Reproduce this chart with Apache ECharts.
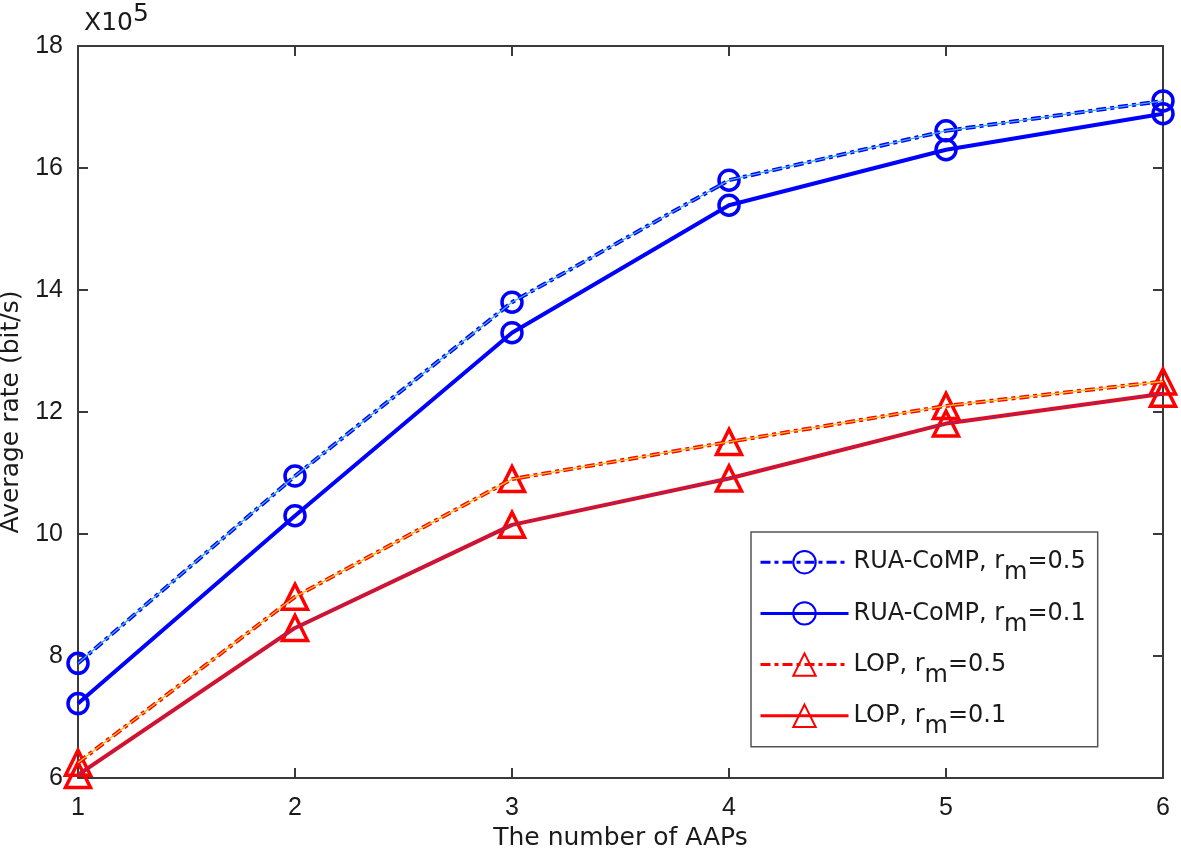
<!DOCTYPE html>
<html>
<head>
<meta charset="utf-8">
<script src="https://cdn.jsdelivr.net/npm/echarts@6/dist/echarts.min.js"></script>
<style>html,body{margin:0;padding:0;background:#fff}#c{width:1181px;height:853px}</style>
</head>
<body>
<div id="c"></div>
<script>
// Data (y values in units of 10^5 bit/s)
var xValues = [1, 2, 3, 4, 5, 6];
var ruaR05 = [7.88, 10.95, 13.80, 15.80, 16.61, 17.10];
var ruaR01 = [7.22, 10.30, 13.30, 15.39, 16.30, 16.89];
var lopR05 = [6.25, 8.97, 10.90, 11.51, 12.10, 12.50];
var lopR01 = [6.05, 8.46, 10.15, 10.91, 11.81, 12.30];
var seriesNames = ['RUA-CoMP, rm=0.5', 'RUA-CoMP, rm=0.1', 'LOP, rm=0.5', 'LOP, rm=0.1'];
var legendRich = ['RUA-CoMP, r{s|m}=0.5', 'RUA-CoMP, r{s|m}=0.1', 'LOP, r{s|m}=0.5', 'LOP, r{s|m}=0.1'];
var yTicks = [6, 8, 10, 12, 14, 16, 18];

function pairs(arr) { return xValues.map(function (x, i) { return [x, arr[i]]; }); }

var FONT = 'Liberation Sans, Arial, sans-serif';
var WFONT = 'DejaVu Sans, sans-serif';
var AX = '#3a3a3a';
var TXT = '#1a1a1a';
var chart = echarts.init(document.getElementById('c'), null, {renderer: 'canvas'});

function mainSeries(name, data, color, dashed, symbol, size) {
  return {
    name: name, type: 'line', data: pairs(data), z: 3,
    symbol: symbol, symbolSize: size, showSymbol: true,
    lineStyle: {color: color, width: 4, type: dashed ? [10, 4, 4, 4] : 'solid'},
    itemStyle: {color: 'rgba(255,255,255,0)', borderColor: color, borderWidth: 3.5},
    emphasis: {disabled: true}, animation: false
  };
}
function overlay(name, data, color) {
  return {
    name: name, type: 'line', data: pairs(data), z: 4, silent: true,
    symbol: 'none', lineStyle: {color: color, width: 1.3, type: 'solid'},
    emphasis: {disabled: true}, animation: false
  };
}

var option = {
  backgroundColor: '#fff',
  animation: false,
  grid: {left: 78, right: 18, top: 46, bottom: 75, containLabel: false, outerBoundsMode: 'none'},
  xAxis: [{
    type: 'value', min: 1, max: 6, interval: 1,
    name: 'The number of AAPs', nameLocation: 'middle', nameGap: 44,
    nameTextStyle: {fontFamily: WFONT, fontSize: 25, color: TXT},
    axisLine: {show: true, lineStyle: {color: AX, width: 2}},
    axisTick: {show: true, inside: true, length: 10, lineStyle: {color: AX, width: 2}},
    axisLabel: {fontFamily: FONT, fontSize: 25, color: TXT, margin: 18},
    splitLine: {show: false}
  }, {
    type: 'value', position: 'top', min: 1, max: 6, interval: 1,
    axisLine: {show: true, lineStyle: {color: AX, width: 2}},
    axisTick: {show: true, inside: true, length: 10, lineStyle: {color: AX, width: 2}},
    axisLabel: {show: false}, splitLine: {show: false}
  }],
  yAxis: [{
    type: 'value', min: 6, max: 18, interval: 2,
    name: 'Average rate (bit/s)', nameLocation: 'middle', nameGap: 49,
    nameTextStyle: {fontFamily: WFONT, fontSize: 25, color: TXT},
    axisLine: {show: true, lineStyle: {color: AX, width: 2}},
    axisTick: {show: true, inside: true, length: 10, lineStyle: {color: AX, width: 2}},
    axisLabel: {fontFamily: FONT, fontSize: 25, color: TXT, margin: 15,
      formatter: function (v) { return yTicks.indexOf(v) >= 0 ? String(v) : ''; }},
    splitLine: {show: false}
  }, {
    type: 'value', position: 'right', min: 6, max: 18, interval: 2,
    axisLine: {show: true, lineStyle: {color: AX, width: 2}},
    axisTick: {show: true, inside: true, length: 10, lineStyle: {color: AX, width: 2}},
    axisLabel: {show: false}, splitLine: {show: false}
  }],
  legend: {
    data: seriesNames,
    orient: 'vertical', left: 751, top: 532,
    backgroundColor: '#fff', borderColor: '#555', borderWidth: 1.5,
    padding: [18, 12, 8, 8],
    itemWidth: 88, itemHeight: 28, itemGap: 16,
    lineStyle: {width: 3},
    formatter: function (name) { return legendRich[seriesNames.indexOf(name)]; },
    textStyle: {fontFamily: WFONT, fontSize: 24, color: TXT,
      rich: {s: {fontFamily: WFONT, fontSize: 24, color: TXT, padding: [22, 0, 0, 0]}}},
    selectedMode: false
  },
  graphic: [{
    type: 'text', left: 84, top: 2,
    style: {
      text: 'X10{s|5}', fontFamily: WFONT, fontSize: 25, fill: TXT,
      rich: {s: {fontFamily: WFONT, fontSize: 25, fill: TXT, padding: [0, 0, 18, 0]}}
    }
  }],
  series: [
    mainSeries(seriesNames[0], ruaR05, '#0000ff', true, 'circle', 20),
    mainSeries(seriesNames[1], ruaR01, '#0000ff', false, 'circle', 20),
    mainSeries(seriesNames[2], lopR05, '#ff0000', true, 'triangle', 25),
    mainSeries(seriesNames[3], lopR01, '#ff0000', false, 'triangle', 25),
    overlay('_o1', ruaR05, '#3fb0e8'),
    overlay('_o3', lopR05, '#f0c020'),
    overlay('_o4', lopR01, '#7e2f8e')
  ]
};
chart.setOption(option);
</script>
</body>
</html>
